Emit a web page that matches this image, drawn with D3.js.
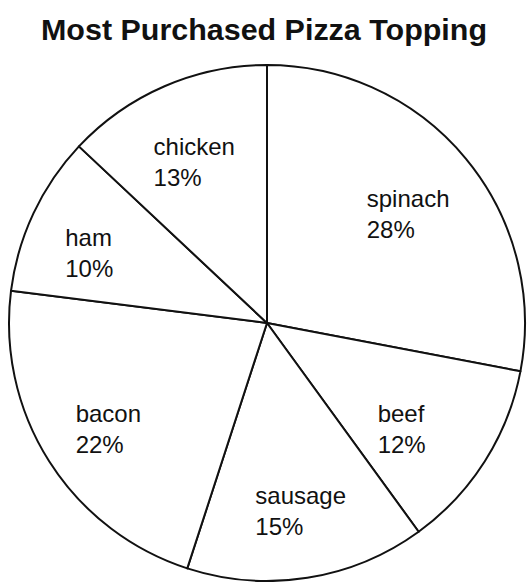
<!DOCTYPE html>
<html>
<head>
<meta charset="utf-8">
<script src="https://cdn.jsdelivr.net/npm/d3@7"></script>
<style>
  html, body { margin: 0; padding: 0; background: #fff; }
  svg { display: block; }
</style>
</head>
<body>
<svg id="chart" width="532" height="582"></svg>
<script>
// Topping shares, clockwise from 12 o'clock
const toppings = ["spinach", "beef", "sausage", "bacon", "ham", "chicken"];
const shares = [28, 12, 15, 22, 10, 13];
const chartTitle = "Most Purchased Pizza Topping";

const W = 532, H = 582;
const cx = 267, cy = 323, R = 258;
const labelFont = "24px 'Liberation Sans', Arial, Helvetica, sans-serif";
const lineGap = 31;
// small horizontal tweaks for labels that sit off their centroid
const labelShiftX = { beef: -20, ham: -12, sausage: 5, bacon: -4 };

const svg = d3.select("#chart");
svg.append("rect").attr("width", W).attr("height", H).attr("fill", "#fff");

svg.append("text")
  .attr("x", 264)
  .attr("y", 40)
  .attr("text-anchor", "middle")
  .attr("textLength", 446)
  .attr("lengthAdjust", "spacingAndGlyphs")
  .style("font", "bold 30px 'Liberation Sans', Arial, Helvetica, sans-serif")
  .attr("fill", "#111")
  .text(chartTitle);

const data = toppings.map((name, i) => ({ name, value: shares[i] }));

const pie = d3.pie().value(d => d.value).sort(null);
const arcs = pie(data);

const arc = d3.arc().innerRadius(0).outerRadius(R);
const labelArc = d3.arc().innerRadius(R * 0.71).outerRadius(R * 0.71);

const g = svg.append("g").attr("transform", `translate(${cx},${cy})`);

g.selectAll("path.slice")
  .data(arcs)
  .join("path")
  .attr("class", "slice")
  .attr("d", arc)
  .attr("fill", "#fff")
  .attr("stroke", "#111")
  .attr("stroke-width", 2)
  .attr("stroke-linejoin", "round");

// Two-line labels: name over percentage, left-aligned, block centred on the slice centroid
const labels = g.selectAll("g.label")
  .data(arcs)
  .join("g")
  .attr("class", "label");

labels.each(function(d) {
  const grp = d3.select(this);
  const t1 = grp.append("text").style("font", labelFont).attr("fill", "#111").text(d.data.name);
  const t2 = grp.append("text").style("font", labelFont).attr("fill", "#111").text(d.data.value + "%");
  const w = Math.max(t1.node().getComputedTextLength(), t2.node().getComputedTextLength());
  const [mx, my] = labelArc.centroid(d);
  const x0 = mx - w / 2 + (labelShiftX[d.data.name] || 0);
  const b1 = my - lineGap / 2 + 16;
  t1.attr("x", x0).attr("y", b1);
  t2.attr("x", x0).attr("y", b1 + lineGap);
});
</script>
</body>
</html>
